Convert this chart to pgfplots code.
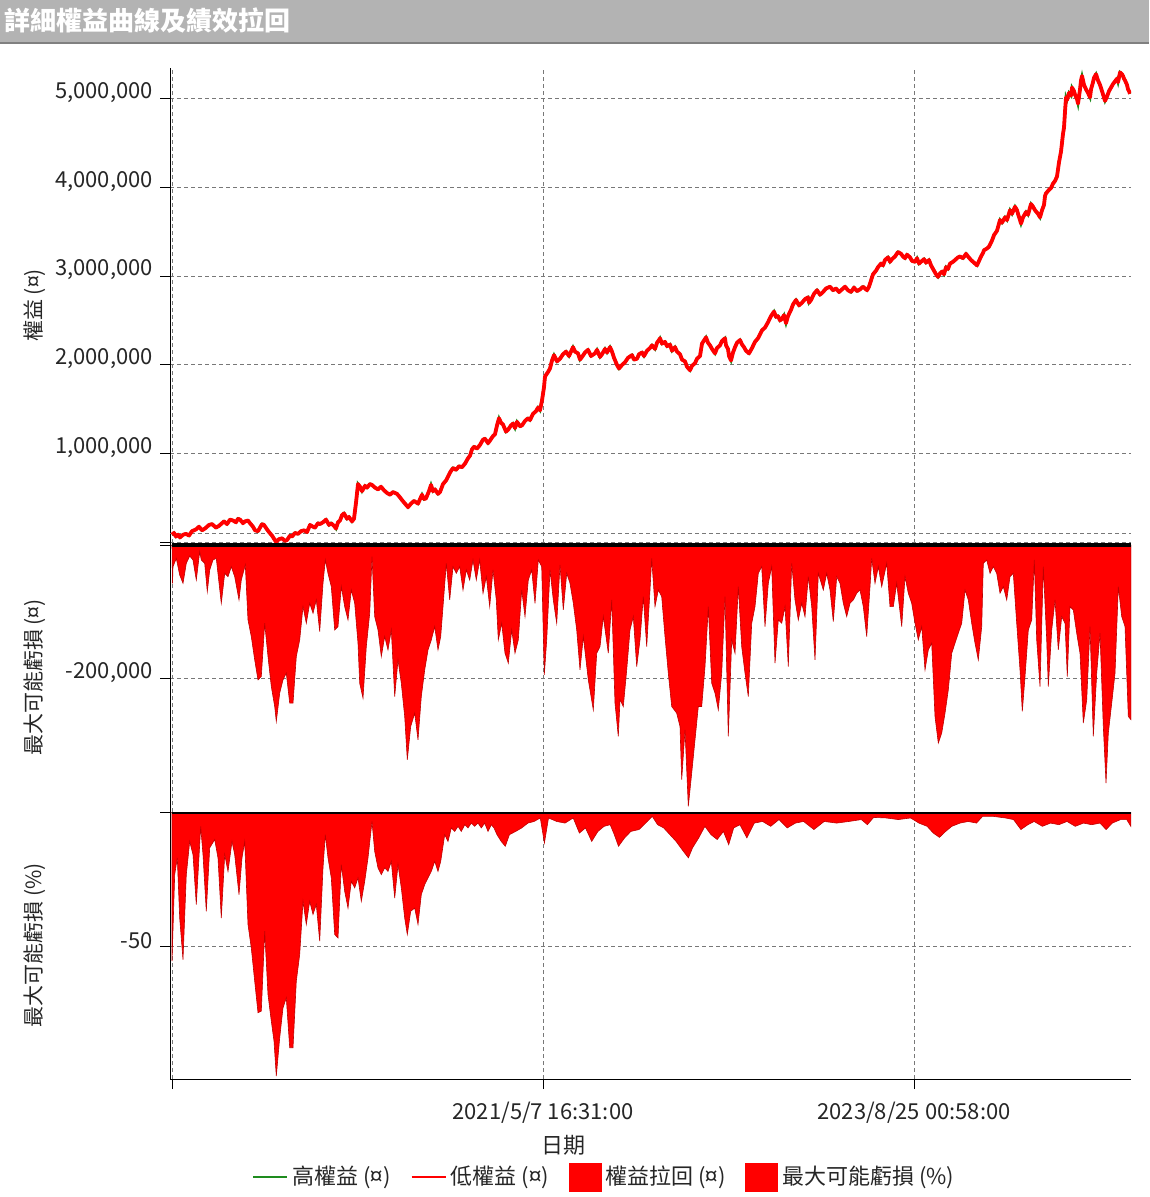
\documentclass[border=0pt]{standalone}
\usepackage{fontspec}
\setmainfont{Noto Sans CJK TC}
\usepackage{pgfplots}
\usepackage{pgfplotstable}
\pgfplotsset{compat=1.18}

\definecolor{titlegray}{RGB}{179,179,179}
\definecolor{gridgray}{RGB}{120,120,120}
\definecolor{ddred}{RGB}{255,0,0}
\definecolor{hiGreen}{RGB}{30,140,30}

% equity curve, x = position along the date axis, y in millions
\pgfplotstableread{
x y
0 0.09
2 0.11
4 0.07
6 0.09
8 0.06
11 0.09
14 0.10
17 0.08
20 0.13
24 0.15
27 0.18
30 0.14
33 0.16
37 0.20
40 0.21
44 0.17
47 0.19
50 0.22
52 0.24
55 0.21
58 0.26
61 0.25
64 0.23
66 0.27
68 0.26
71 0.22
73 0.24
76 0.25
78 0.22
81 0.18
83 0.14
86 0.13
88 0.17
90 0.21
92 0.20
95 0.15
97 0.12
100 0.08
104 0.01
107 0.04
110 0.05
113 0.02
115 0.03
118 0.08
120 0.07
123 0.11
126 0.10
129 0.13
132 0.14
135 0.12
138 0.20
141 0.18
143 0.17
146 0.22
148 0.21
151 0.23
154 0.26
157 0.20
159 0.22
162 0.19
164 0.16
166 0.23
168 0.25
170 0.31
172 0.33
175 0.27
177 0.29
180 0.24
182 0.27
184 0.45
186 0.66
188 0.63
190 0.58
193 0.64
195 0.62
198 0.66
200 0.65
203 0.62
206 0.60
209 0.63
212 0.59
215 0.56
218 0.54
221 0.57
225 0.55
228 0.51
230 0.48
233 0.44
236 0.40
239 0.44
242 0.47
246 0.44
250 0.54
252 0.49
254 0.50
257 0.58
259 0.65
261 0.58
263 0.60
266 0.55
268 0.57
271 0.66
274 0.70
278 0.79
281 0.84
284 0.82
287 0.86
290 0.85
293 0.89
296 0.95
298 0.98
300 1.05
302 1.08
305 1.06
308 1.10
311 1.16
313 1.17
316 1.12
318 1.15
321 1.20
323 1.22
325 1.32
327 1.40
329 1.35
331 1.33
334 1.25
336 1.27
339 1.32
341 1.34
343 1.29
345 1.36
348 1.31
350 1.32
353 1.37
356 1.40
358 1.38
361 1.45
364 1.48
366 1.52
368 1.49
370 1.60
372 1.75
373 1.87
376 1.92
378 1.96
380 2.05
382 2.11
385 2.04
388 2.07
391 2.12
394 2.15
397 2.10
401 2.20
403 2.15
406 2.13
408 2.06
410 2.09
413 2.14
416 2.17
419 2.10
423 2.13
425 2.17
428 2.09
430 2.12
433 2.18
435 2.14
438 2.20
440 2.15
442 2.08
445 2.00
447 1.96
450 2.00
453 2.03
456 2.08
460 2.11
462 2.06
465 2.07
467 2.12
470 2.14
472 2.10
475 2.16
478 2.19
480 2.22
483 2.18
485 2.25
487 2.28
488 2.30
490 2.24
493 2.26
495 2.21
498 2.23
500 2.16
503 2.20
505 2.15
508 2.12
510 2.06
513 2.04
515 1.98
518 1.94
520 1.99
523 2.02
525 2.07
528 2.10
530 2.24
534 2.31
536 2.25
538 2.22
540 2.18
543 2.13
545 2.19
548 2.22
550 2.27
553 2.30
554 2.22
556 2.18
557 2.10
559 2.05
561 2.14
563 2.20
565 2.25
568 2.28
570 2.23
572 2.20
574 2.16
577 2.13
580 2.19
583 2.26
586 2.30
590 2.39
593 2.42
596 2.48
599 2.55
602 2.60
604 2.54
606 2.55
608 2.50
610 2.52
612 2.56
614 2.47
616 2.55
619 2.62
621 2.68
624 2.73
627 2.67
630 2.70
633 2.74
636 2.76
637 2.70
639 2.73
642 2.80
645 2.84
648 2.79
651 2.82
654 2.86
658 2.88
661 2.84
664 2.86
667 2.82
670 2.85
673 2.88
676 2.84
679 2.82
682 2.87
685 2.83
688 2.85
691 2.88
695 2.84
697 2.88
699 2.95
701 3.02
704 3.06
706 3.10
709 3.14
711 3.12
713 3.18
716 3.21
718 3.16
720 3.19
723 3.22
726 3.27
729 3.25
731 3.22
733 3.20
735 3.24
738 3.21
740 3.17
743 3.16
745 3.20
747 3.14
750 3.17
752 3.19
754 3.15
757 3.18
759 3.12
762 3.06
764 3.02
766 2.99
768 3.03
770 3.05
772 3.02
774 3.10
776 3.08
778 3.14
781 3.16
783 3.18
786 3.21
788 3.22
791 3.20
794 3.25
796 3.22
799 3.18
802 3.15
805 3.12
807 3.17
809 3.22
811 3.26
812 3.29
815 3.31
817 3.33
820 3.40
822 3.46
825 3.51
828 3.63
830 3.60
833 3.66
835 3.63
838 3.74
840 3.70
843 3.78
845 3.74
846 3.70
848 3.63
849 3.59
851 3.66
854 3.72
856 3.69
859 3.81
861 3.78
863 3.74
866 3.70
868 3.66
870 3.74
872 3.80
873 3.90
874 3.93
877 3.97
879 3.99
881 4.04
883 4.07
885 4.12
886 4.20
887 4.28
888 4.34
889 4.40
890 4.50
891 4.60
892 4.67
893 4.85
894 5.01
895 4.98
897 5.06
899 5.03
900 5.12
902 5.08
903 5.04
905 4.99
906 4.94
907 5.02
908 5.10
909 5.20
910 5.25
912 5.15
914 5.10
916 5.06
918 5.01
919 5.10
921 5.18
922 5.23
924 5.27
926 5.20
928 5.15
930 5.08
933 4.97
935 5.02
937 5.08
939 5.12
941 5.16
943 5.19
945 5.22
946 5.18
948 5.29
950 5.27
951 5.25
952 5.22
953 5.20
955 5.15
956 5.10
957 5.08
958 5.05
}\equity

\pgfplotsset{
  panel/.style={
    scale only axis, width=480.5pt,
    xmin=-2, xmax=959,
    axis y line*=left, axis x line*=bottom,
    axis line style={black, -},
    xtick={0,371,742},
    xmajorgrids, ymajorgrids,
    major grid style={dash pattern=on 2pt off 1.5pt, gridgray, line width=0.5pt},
    tick align=outside, major tick length=5pt,
    tick style={black, line width=0.5pt},
    tick label style={font=\fontsize{11}{13}\selectfont, text=black!85},
    yticklabel style={yshift=3pt},
    ylabel style={at={(axis description cs:-0.1405,0.5)}, anchor=center,
      font=\fontsize{10.5}{12}\selectfont, text=black!85},
  },
  nobottom/.style={
    x axis line style={draw=none}, xticklabels={}, xtick style={draw=none},
  },
}

\begin{document}
\begin{tikzpicture}
\path[use as bounding box] (0,0) rectangle (574.5pt,-598.5pt);

% title bar
\fill[titlegray] (0,0) rectangle (574.5pt,-21.5pt);
\draw[black!50, line width=0.6pt] (0,-21.5pt) -- (574.5pt,-21.5pt);
\node[anchor=west, text=white, font=\bfseries\fontsize{13}{15}\selectfont, inner sep=0pt]
  at (2pt,-10.5pt) {詳細權益曲線及績效拉回};

% equity panel
\begin{axis}[panel, nobottom,
  at={(85pt,-271.5pt)}, anchor=south west, height=237.5pt,
  ymin=-0.003, ymax=5.34,
  ytick={0,1,2,3,4,5},
  yticklabels={,{1,000,000},{2,000,000},{3,000,000},{4,000,000},{5,000,000}},
  extra y ticks={0.1}, extra y tick labels={},
  extra y tick style={major tick length=0pt, grid style={dash pattern=on 2pt off 1.5pt, black!80}},
  ylabel={權益 (¤)},
]
\addplot[hiGreen, line width=1.4pt] table[x=x, y=y] {\equity};
\addplot[ddred, line width=1.9pt, line join=round] table[x=x, y=y] {\equity};
\end{axis}

% drawdown in currency (thousands)
\begin{axis}[panel, nobottom,
  at={(85pt,-406pt)}, anchor=south west, height=134.5pt,
  ymin=-401, ymax=3,
  ytick={-200,0}, yticklabels={{-200,000},},
  ylabel={最大可能虧損 (¤)},
]
\addplot[draw=red!75!black, line width=0.3pt, fill=ddred] coordinates {
(0,0) (0.5,-57.5) (1,-32.5) (4.3,-20) (7.7,-45) (11,-57.5) (14.3,-27.5) (17.7,-16.5)
(21,-22.5) (24.3,-52.5) (27.7,-10) (29.3,-22.5) (32.7,-27.5) (35.3,-70) (37.7,-37.5)
(41,-22.5) (44.3,-20) (49.3,-87.5) (52.7,-42.5) (56,-47.5) (59.3,-32.5) (62.7,-47.5)
(67,-82.5) (69.3,-52.5) (73.3,-30) (76,-112.5) (79.3,-137.5) (82.7,-172.5) (86,-202.5)
(89.3,-197.5) (92.7,-117.5) (96,-167.5) (99.3,-212.5) (102.7,-242.5) (104.3,-265)
(107.7,-222.5) (111,-202.5) (114.3,-192.5) (117.7,-237.5) (121,-237.5) (124.3,-167.5)
(127.7,-142.5) (131,-92.5) (134.3,-117.5) (137.7,-87.5) (141,-102.5) (144.3,-82.5)
(147.7,-130) (151,-57.5) (153.3,-22.5) (156,-42.5) (159.3,-62.5) (162.7,-127.5)
(166,-122.5) (169.3,-62.5) (172.7,-92.5) (176,-112.5) (179.3,-67.5) (182.7,-87.5)
(186,-147.5) (187.7,-207.5) (191,-230) (194.3,-152.5) (197.7,-102.5) (200,-17.5)
(202.7,-107.5) (206,-127.5) (209.3,-167.5) (212.7,-137.5) (216,-157.5) (219.3,-127.5)
(222.7,-227.5) (226,-172.5) (229.3,-207.5) (232.7,-257.5) (235.3,-322.5) (238.7,-272.5)
(242.7,-252.5) (246,-292.5) (249.3,-227.5) (252.7,-187.5) (256,-157.5) (259.3,-142.5)
(262.7,-122.5) (266,-157.5) (268.7,-137.5) (271,-92.5) (274.3,-27.5) (277.7,-82.5)
(281,-32.5) (284.3,-42.5) (287.7,-32.5) (291,-67.5) (294.3,-37.5) (297.7,-52.5)
(301,-22.5) (304.3,-52.5) (307.7,-22.5) (311,-72.5) (314.3,-47.5) (317.7,-92.5)
(321,-37.5) (324.3,-82.5) (326.3,-142.5) (329.7,-117.5) (333,-162.5) (336.3,-177.5)
(339.7,-127.5) (343,-162.5) (346.3,-142.5) (349.7,-67.5) (353,-107.5) (356.3,-52.5)
(359.7,-37.5) (363,-87.5) (366.3,-22.5) (369.7,-32.5) (372.3,-195) (374.7,-142.5)
(378,-37.5) (381.3,-82.5) (384.7,-117.5) (388,-30) (391.3,-97.5) (394.7,-42.5)
(398,-57.5) (401.3,-87.5) (404.7,-127.5) (408,-187.5) (411.3,-137.5) (416.3,-202.5)
(421.3,-247.5) (424.7,-162.5) (428,-152.5) (431.3,-107.5) (436.3,-162.5) (439.7,-82.5)
(443,-237.5) (446.3,-287.5) (448,-232.5) (451.3,-242.5) (454.7,-187.5) (458,-127.5)
(461.3,-107.5) (464.7,-182.5) (468,-142.5) (471.3,-77.5) (474.7,-152.5) (478,-67.5)
(479.7,-20) (483,-92.5) (486.3,-67.5) (489.7,-77.5) (493,-137.5) (496.3,-192.5)
(499.7,-242.5) (504.7,-252.5) (508,-272.5) (509.7,-352.5) (513,-277.5) (516.3,-392.5)
(519.7,-342.5) (523,-292.5) (526.3,-242.5) (529.7,-242.5) (533,-182.5) (536.3,-92.5)
(539.7,-207.5) (543,-222.5) (546.3,-247.5) (549.7,-192.5) (553,-77.5) (556.3,-287.5)
(559.7,-142.5) (563,-162.5) (566.3,-62.5) (569.7,-152.5) (573,-192.5) (576.3,-227.5)
(579.7,-117.5) (583,-92.5) (586.3,-42.5) (589.7,-32.5) (593,-122.5) (596.3,-57.5)
(599.7,-32.5) (603,-177.5) (606.3,-112.5) (609.7,-117.5) (613,-92.5) (616.3,-182.5)
(619.7,-27.5) (623,-82.5) (626.3,-112.5) (629.7,-87.5) (633,-107.5) (636.3,-47.5)
(639.7,-92.5) (643,-172.5) (646.3,-42.5) (651.3,-67.5) (654.7,-42.5) (658,-67.5)
(661.3,-115) (664.7,-47.5) (668,-57.5) (671.3,-87.5) (674.7,-107.5) (678,-87.5)
(681.3,-82.5) (684.7,-72.5) (688,-67.5) (691.3,-92.5) (694.7,-137.5) (698,-62.5)
(699.7,-20) (703,-57.5) (706.3,-32.5) (709.7,-62.5) (714.7,-27.5) (718,-92.5)
(721.3,-92.5) (724.7,-57.5) (729.7,-122.5) (733,-47.5) (736.3,-72.5) (739.7,-87.5)
(743,-117.5) (746.3,-142.5) (749.7,-122.5) (753,-187.5) (756.3,-157.5) (759.7,-147.5)
(763,-257.5) (766.3,-297.5) (769.7,-282.5) (773,-252.5) (776.3,-217.5) (779.7,-162.5)
(783,-147.5) (786.3,-132.5) (789.7,-117.5) (793,-67.5) (796.3,-82.5) (799.7,-117.5)
(803,-147.5) (806.3,-172.5) (809.7,-122.5) (811.3,-27.5) (814.7,-22.5) (818,-42.5)
(821.3,-32.5) (824.7,-42.5) (828,-72.5) (831.3,-62.5) (834.7,-82.5) (838,-47.5)
(841.3,-42.5) (844.7,-117.5) (848,-187.5) (850.3,-250) (853,-197.5) (856.3,-127.5)
(859.7,-112.5) (862.3,-22.5) (864.7,-142.5) (868,-212.5) (871.3,-32.5) (874.7,-142.5)
(876.3,-212.5) (879.7,-127.5) (883,-82.5) (886.3,-157.5) (889.7,-107.5) (893,-117.5)
(895.3,-197.5) (898,-92.5) (901.3,-97.5) (904.7,-132.5) (908,-162.5) (911.3,-267.5)
(914.7,-232.5) (918,-122.5) (921.3,-287.5) (924.7,-192.5) (928,-132.5) (931.3,-272.5)
(934,-357.5) (936.3,-282.5) (939.7,-237.5) (943,-192.5) (946.3,-62.5) (949.7,-107.5)
(953,-122.5) (956.3,-257.5) (959,-262.5) (959,0)
} \closedcycle;
\addplot[black, line width=1.6pt] coordinates {(0,0) (959,0)};
\end{axis}

% drawdown in percent
\begin{axis}[panel,
  at={(85pt,-539.5pt)}, anchor=south west, height=133.5pt,
  ymin=-99, ymax=0,
  ytick={-50,0}, yticklabels={-50,},
  xticklabels={,2021/5/7 16:31:00,2023/8/25 00:58:00},
  xticklabel style={yshift=-3pt},
  ylabel={最大可能虧損 (\%)},
  legend columns=4,
  legend style={at={(axis description cs:0.453,-0.367)}, anchor=center,
    draw=none, fill=none, font=\fontsize{11}{13}\selectfont, text=black!85,
    /tikz/every even column/.append style={column sep=8pt}},
]
\addplot[draw=red!75!black, line width=0.3pt, fill=ddred, forget plot] coordinates {
(0,0) (0,-55.3) (2.7,-23.2) (5.3,-17) (7.7,-39.3) (11,-54.7) (14.3,-23.2) (17.7,-10.9)
(21,-15.8) (24.3,-34.3) (28.7,-5.3) (31,-15.8) (34.3,-36.8) (37.7,-13.3) (42.7,-10.2)
(46,-17) (49.3,-39.3) (52.7,-15.8) (56,-22) (60,-10.9) (62.7,-15.8) (67,-30.6)
(70,-17) (72.7,-10.9) (76,-41.7) (79.3,-50.4) (82.7,-62.7) (86,-74.4) (89.3,-73.8)
(92.7,-44.2) (96,-67.7) (99.3,-77.5) (102,-84.9) (104.3,-97.9) (107.7,-83.7)
(111,-72.6) (114.3,-68.9) (117.7,-87.4) (121,-87.4) (124.3,-62.7) (127.7,-52.8)
(131,-33.1) (134.3,-41.7) (137.7,-33.1) (141,-38) (144.3,-34.3) (147.7,-47.9)
(151,-20.7) (153.3,-8.4) (156,-17) (159.3,-24.4) (162.7,-45.4) (166,-46.7)
(169.3,-19.5) (172.7,-29.4) (176,-35.6) (179.3,-25.7) (182.7,-28.1) (186,-24.4)
(189.3,-33.1) (192.7,-25.7) (196,-17) (200,-3.5) (202.7,-14.6) (206,-20.7)
(209.3,-23.2) (212.7,-20.7) (216,-22) (219.3,-18.3) (222.7,-31.9) (226,-19.5)
(229.3,-28.1) (232.7,-39.3) (235.3,-45.4) (238.7,-36.8) (242.7,-35.6) (246,-41.7)
(249.3,-30.6) (252.7,-26.9) (256,-24.4) (259.3,-22) (262.7,-18.3) (266,-22)
(268.7,-18.3) (272.7,-8.4) (276,-10.9) (279.3,-5.9) (282.7,-7.2) (286,-5.3)
(289.3,-7.2) (292.7,-4.7) (296,-5.9) (299.3,-4.1) (302.7,-5.3) (306,-4.1)
(309.3,-5.9) (312.7,-4.1) (316,-7.2) (319.3,-4.7) (322,-5.9) (325,-8.4)
(329.2,-10.9) (333.3,-12.7) (337.4,-8.4) (343.6,-7.2) (349.7,-5.9) (355.9,-4.1)
(362.1,-3.5) (368.3,-2.2) (372.4,-11.5) (376.5,-2.2) (384.7,-3.5) (393,-4.1)
(401.2,-2.2) (407.4,-7.8) (413.5,-5.9) (419.7,-10.9) (425.9,-7.2) (432.1,-5.3)
(438.2,-4.7) (442.3,-8.4) (446.5,-12.7) (452.6,-9.6) (458.8,-7.2) (467,-6.5)
(475.3,-3.5) (480.2,-1.6) (485.6,-4.7) (491.7,-5.9) (497.9,-8.4) (504.1,-10.9)
(510.2,-14) (516.4,-17) (520.5,-13.3) (526.7,-9.6) (532.9,-5.3) (539,-8.4)
(545.2,-10.2) (551.4,-7.2) (556.7,-12.1) (561.7,-5.9) (567.9,-4.7) (574.9,-9.6)
(582.3,-4.1) (590.5,-3.5) (598.7,-5.3) (607,-2.8) (615.2,-5.9) (623.4,-4.1)
(631.6,-3.5) (641.9,-6.5) (652.2,-3.5) (664.6,-4.1) (676.9,-3.5) (689.3,-2.8)
(695.4,-4.7) (701.6,-2) (714,-2.2) (726.3,-2.8) (738.6,-2.2) (746.9,-4.1)
(755.1,-5.3) (761.3,-7.8) (767.4,-9.4) (773.6,-7.2) (779.8,-5.3) (788,-4.1)
(796.2,-3.5) (804.5,-4.1) (810.6,-1.6) (820.9,-1.6) (833.3,-2.2) (841.5,-2.8)
(848.9,-6.5) (855.9,-4.7) (862.1,-3.5) (870.3,-5.3) (878.6,-4.1) (886.8,-4.7)
(895,-3.5) (903.2,-5.3) (911.5,-4.1) (919.7,-4.7) (927.9,-4.1) (934.1,-6.5)
(940.3,-4.1) (948.6,-2.8) (954.7,-2.8) (958.8,-5.3) (958.8,0)
} \closedcycle;
\addplot[black, line width=1.6pt, forget plot] coordinates {(0,0) (959,0)};
\addlegendimage{line legend, hiGreen, line width=1pt}
\addlegendentry{高權益 (¤)}
\addlegendimage{line legend, ddred, line width=1pt}
\addlegendentry{低權益 (¤)}
\addlegendimage{legend image code/.code={\fill[ddred] (0pt,-7pt) rectangle (16pt,7pt);}}
\addlegendentry{權益拉回 (¤)}
\addlegendimage{legend image code/.code={\fill[ddred] (0pt,-7pt) rectangle (16pt,7pt);}}
\addlegendentry{最大可能虧損 (\%)}
\end{axis}

\node[font=\fontsize{11}{13}\selectfont, text=black!85] at (281.5pt,-572.5pt) {日期};
\end{tikzpicture}
\end{document}
